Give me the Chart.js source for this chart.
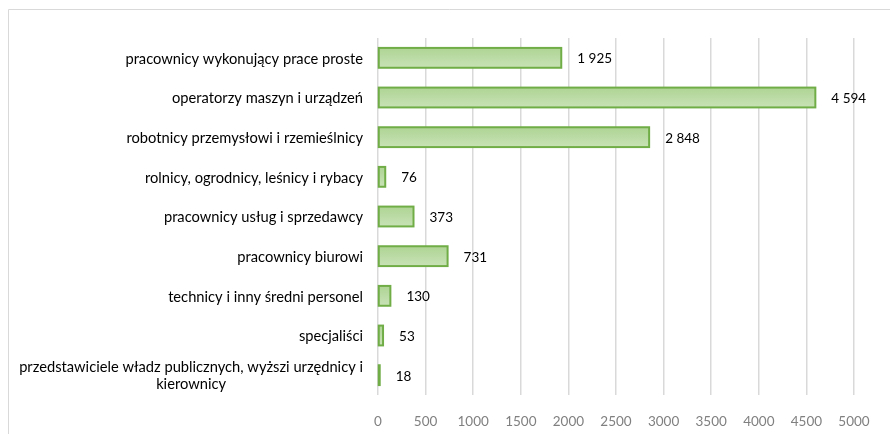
<!DOCTYPE html>
<html>
<head>
<meta charset="utf-8">
<script src="https://cdn.jsdelivr.net/npm/chart.js@4"></script>
<style>
  html, body { margin: 0; padding: 0; background: #fff; }
  #wrap { position: relative; width: 890px; height: 434px; }
</style>
</head>
<body>
<div id="wrap"><canvas id="chart" width="890" height="434"></canvas></div>
<script>
const categories = [
  'pracownicy wykonujący prace proste',
  'operatorzy maszyn i urządzeń',
  'robotnicy przemysłowi i rzemieślnicy',
  'rolnicy, ogrodnicy, leśnicy i rybacy',
  'pracownicy usług i sprzedawcy',
  'pracownicy biurowi',
  'technicy i inny średni personel',
  'specjaliści',
  ['przedstawiciele władz publicznych, wyższi urzędnicy i', 'kierownicy']
]
const values = [1925, 4594, 2848, 76, 373, 731, 130, 53, 18]
const xTicks = [0, 500, 1000, 1500, 2000, 2500, 3000, 3500, 4000, 4500, 5000]

const FONT = 'Lato, "Noto Sans", sans-serif'
const fmt = v => String(v).replace(/\B(?=(\d{3})+(?!\d))/g, ' ')

// frame, bar outlines (centred on the edge like Excel), category and value labels
const extras = {
  id: 'extras',
  beforeDraw(chart) {
    const c = chart.ctx
    c.save()
    c.strokeStyle = '#d9d9d9'
    c.lineWidth = 1
    c.beginPath()
    c.moveTo(8.5, 434)
    c.lineTo(8.5, 9.5)
    c.lineTo(890, 9.5)
    c.stroke()
    c.restore()
  },
  afterDatasetsDraw(chart) {
    const c = chart.ctx
    const y = chart.scales.y
    const bars = chart.getDatasetMeta(0).data
    c.save()
    c.strokeStyle = '#70ad47'
    c.lineWidth = 2
    bars.forEach(bar => {
      c.strokeRect(bar.base, bar.y - bar.height / 2, bar.x - bar.base, bar.height)
    })

    c.font = '14.7px ' + FONT
    c.fillStyle = '#000'
    c.textBaseline = 'middle'
    const right = chart.chartArea.left - 15
    categories.forEach((lab, i) => {
      const cy = y.getPixelForValue(i)
      const lines = Array.isArray(lab) ? lab : [lab]
      const w = Math.max(...lines.map(l => c.measureText(l).width))
      const lh = 17
      lines.forEach((l, j) => {
        const ly = cy + (j - (lines.length - 1) / 2) * lh + 1
        if (lines.length > 1) {
          c.textAlign = 'center'
          c.fillText(l, right - w / 2, ly)
        } else {
          c.textAlign = 'right'
          c.fillText(l, right, ly)
        }
      })
    })

    c.font = '13.5px ' + FONT
    c.textAlign = 'left'
    bars.forEach((bar, i) => {
      c.fillText(fmt(values[i]), bar.x + 16, bar.y + 1)
    })
    c.restore()
  }
}

const ctx = document.getElementById('chart').getContext('2d')
new Chart(ctx, {
  type: 'bar',
  data: {
    labels: categories,
    datasets: [{
      data: values,
      backgroundColor: (context) => {
        const chart = context.chart
        if (!chart.chartArea) return '#b9dca3'
        const cy = chart.scales.y.getPixelForValue(context.dataIndex)
        const g = chart.ctx.createLinearGradient(0, cy - 10, 0, cy + 10)
        g.addColorStop(0, '#aed494')
        g.addColorStop(1, '#c8e2b6')
        return g
      },
      borderWidth: 0,
      barPercentage: 0.5,
      categoryPercentage: 1
    }]
  },
  plugins: [extras],
  options: {
    indexAxis: 'y',
    responsive: false,
    animation: false,
    layout: { padding: { top: 38, right: 36, bottom: 0, left: 0 } },
    plugins: {
      legend: { display: false },
      tooltip: { enabled: false }
    },
    scales: {
      x: {
        min: 0,
        max: 5000,
        afterBuildTicks: (s) => { s.ticks = xTicks.map(v => ({ value: v })) },
        afterFit: (s) => { s.height = 39 },
        grid: { color: '#d9d9d9', lineWidth: 1.5, drawTicks: false },
        border: { display: false },
        ticks: {
          color: '#808080',
          font: { family: FONT, size: 13.5 },
          padding: 19,
          callback: (v) => String(v)
        }
      },
      y: {
        grid: { display: false },
        border: { display: false },
        ticks: { display: false },
        afterFit: (s) => { s.width = 378 }
      }
    }
  }
})
</script>
</body>
</html>
